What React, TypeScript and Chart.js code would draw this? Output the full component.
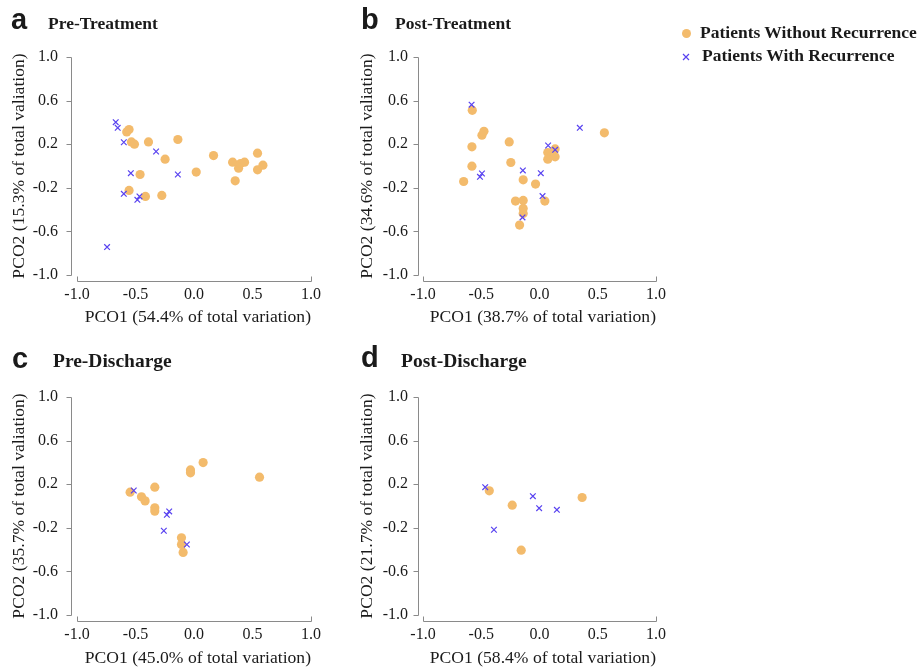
import React, { useEffect, useRef } from "react";
import { Chart, registerables } from "chart.js";

Chart.register(...registerables);

// ---------- data ----------
const X_TICKS = [-1.0, -0.5, 0.0, 0.5, 1.0];
const Y_TICKS = [-1.0, -0.6, -0.2, 0.2, 0.6, 1.0];

const SERIES_WITHOUT = "Patients Without Recurrence";
const SERIES_WITH = "Patients With Recurrence";

const PANEL_LETTERS = ["a", "b", "c", "d"];
const PANEL_TITLES = ["Pre-Treatment", "Post-Treatment", "Pre-Discharge", "Post-Discharge"];
const X_TITLES = [
  "PCO1 (54.4% of total variation)",
  "PCO1 (38.7% of total variation)",
  "PCO1 (45.0% of total variation)",
  "PCO1 (58.4% of total variation)",
];
const Y_TITLES = [
  "PCO2 (15.3% of total valiation)",
  "PCO2 (34.6% of total valiation)",
  "PCO2 (35.7% of total valiation)",
  "PCO2 (21.7% of total valiation)",
];

// Panel a: Pre-Treatment
const A_WITHOUT_X = [-0.575, -0.555, -0.535, -0.509, -0.389, -0.138, -0.247, 0.167, 0.019, 0.33, 0.381, 0.398, 0.432, 0.543, 0.543, 0.589, 0.352, -0.461, -0.555, -0.415, -0.275];
const A_WITHOUT_Y = [0.313, 0.334, 0.221, 0.2, 0.221, 0.243, 0.063, 0.096, -0.056, 0.035, -0.02, 0.023, 0.035, 0.118, -0.035, 0.008, -0.136, -0.078, -0.224, -0.279, -0.27];
const A_WITH_X = [-0.669, -0.652, -0.6, -0.324, -0.54, -0.138, -0.6, -0.466, -0.484, -0.743];
const A_WITH_Y = [0.402, 0.35, 0.218, 0.133, -0.066, -0.078, -0.255, -0.279, -0.31, -0.744];

// Panel b: Post-Treatment
const B_WITHOUT_X = [-0.577, -0.58, -0.58, -0.651, -0.494, -0.477, -0.26, -0.246, -0.14, -0.034, -0.206, -0.14, -0.14, -0.14, -0.171, 0.046, 0.071, 0.071, 0.134, 0.134, 0.557];
const B_WITHOUT_Y = [0.511, 0.176, -0.002, -0.142, 0.282, 0.319, 0.221, 0.032, -0.127, -0.166, -0.322, -0.316, -0.389, -0.435, -0.542, -0.322, 0.124, 0.063, 0.157, 0.084, 0.304];
const B_WITH_X = [-0.583, -0.511, -0.494, -0.143, 0.011, 0.074, 0.134, 0.346, 0.026, -0.146];
const B_WITH_Y = [0.563, -0.099, -0.069, -0.041, -0.066, 0.188, 0.148, 0.35, -0.276, -0.472];

// Panel c: Pre-Discharge
const C_WITHOUT_X = [-0.546, -0.449, -0.418, -0.335, -0.335, -0.335, -0.03, -0.03, 0.078, 0.56, -0.107, -0.107, -0.093];
const C_WITHOUT_Y = [0.127, 0.084, 0.047, 0.173, -0.017, -0.047, 0.331, 0.304, 0.398, 0.264, -0.292, -0.353, -0.426];
const C_WITH_X = [-0.515, -0.232, -0.212, -0.258, -0.061];
const C_WITH_Y = [0.142, -0.081, -0.05, -0.227, -0.353];

// Panel d: Post-Discharge
const D_WITHOUT_X = [-0.431, -0.234, -0.157, 0.366];
const D_WITHOUT_Y = [0.139, 0.008, -0.405, 0.078];
const D_WITH_X = [-0.466, -0.391, -0.057, -0.003, 0.149];
const D_WITH_Y = [0.173, -0.218, 0.09, -0.02, -0.035];

const WITHOUT_XS = [A_WITHOUT_X, B_WITHOUT_X, C_WITHOUT_X, D_WITHOUT_X];
const WITHOUT_YS = [A_WITHOUT_Y, B_WITHOUT_Y, C_WITHOUT_Y, D_WITHOUT_Y];
const WITH_XS = [A_WITH_X, B_WITH_X, C_WITH_X, D_WITH_X];
const WITH_YS = [A_WITH_Y, B_WITH_Y, C_WITH_Y, D_WITH_Y];

// ---------- styles / layout ----------
const ORANGE = "rgb(243,187,108)";
const BLUE = "rgb(88,66,240)";
const AXIS_GRAY = "#8a8a8a";
const TEXT = "#1a1a1a";
const SERIF = '"Liberation Serif", "Times New Roman", serif';
const SANS = '"Liberation Sans", Arial, sans-serif';

type Layout = {
  x0: number; y0: number; w: number; h: number;
  aL: number; aR: number; aT: number; aB: number;
  yGap: number; yTickPad: number; yTitlePad: number; xTitlePad: number;
  letterX: number; letterY: number; titleX: number; titleY: number; titleSize: number;
};

const LAYOUTS: Layout[] = [
  { x0: 0, y0: 0, w: 345, h: 332, aL: 77, aR: 311, aT: 57, aB: 275, yGap: 6, yTickPad: 19, yTitlePad: 9, xTitlePad: 4, letterX: 11, letterY: 29, titleX: 48, titleY: 29, titleSize: 17.5 },
  { x0: 345, y0: 0, w: 345, h: 332, aL: 423, aR: 656, aT: 57, aB: 275, yGap: 5, yTickPad: 15, yTitlePad: 12, xTitlePad: 4, letterX: 361, letterY: 29, titleX: 395, titleY: 29, titleSize: 17.5 },
  { x0: 0, y0: 337, w: 345, h: 332, aL: 77, aR: 311, aT: 397, aB: 615, yGap: 6, yTickPad: 19, yTitlePad: 9, xTitlePad: 0.5, letterX: 12, letterY: 368, titleX: 53, titleY: 367, titleSize: 19.5 },
  { x0: 345, y0: 337, w: 345, h: 332, aL: 423, aR: 656, aT: 397, aB: 615, yGap: 5, yTickPad: 15, yTitlePad: 12, xTitlePad: 0.5, letterX: 361, letterY: 367, titleX: 401, titleY: 367, titleSize: 19.5 },
];

const fmt = (v: number) => (Math.abs(v) < 1e-9 ? 0 : v).toFixed(1);

function Panel({ idx }: { idx: number }) {
  const ref = useRef<HTMLCanvasElement | null>(null);
  const L = LAYOUTS[idx];

  useEffect(() => {
    if (!ref.current) return;
    const withoutPts = WITHOUT_XS[idx].map((x, i) => ({ x, y: WITHOUT_YS[idx][i] }));
    const withPts = WITH_XS[idx].map((x, i) => ({ x, y: WITH_YS[idx][i] }));

    const decor = {
      id: "decor",
      afterDraw(chart: any) {
        const { ctx, chartArea, scales } = chart;
        const xs = scales.x;
        const ys = scales.y;
        ctx.save();
        ctx.strokeStyle = AXIS_GRAY;
        ctx.lineWidth = 1;
        ctx.beginPath();
        const ax = Math.round(chartArea.left - L.yGap) + 0.5;
        const yTop = Math.round(ys.getPixelForValue(1.0)) + 0.5;
        const yBot = Math.round(ys.getPixelForValue(-1.0)) + 0.5;
        ctx.moveTo(ax, yTop);
        ctx.lineTo(ax, yBot);
        for (const v of Y_TICKS) {
          const p = Math.round(ys.getPixelForValue(v)) + 0.5;
          ctx.moveTo(ax - 5, p);
          ctx.lineTo(ax, p);
        }
        const by = Math.round(chartArea.bottom + 6) + 0.5;
        const xl = Math.round(xs.getPixelForValue(-1.0)) + 0.5;
        const xr = Math.round(xs.getPixelForValue(1.0)) + 0.5;
        ctx.moveTo(xl, by - 5);
        ctx.lineTo(xl, by);
        ctx.lineTo(xr, by);
        ctx.lineTo(xr, by - 5);
        ctx.stroke();

        ctx.fillStyle = TEXT;
        ctx.textAlign = "left";
        ctx.textBaseline = "alphabetic";
        ctx.font = `bold 29px ${SANS}`;
        ctx.fillText(PANEL_LETTERS[idx], L.letterX - L.x0, L.letterY - L.y0);
        ctx.font = `bold ${L.titleSize}px ${SERIF}`;
        ctx.fillText(PANEL_TITLES[idx], L.titleX - L.x0, L.titleY - L.y0);
        ctx.restore();
      },
    };

    const chart = new Chart(ref.current, {
      type: "scatter",
      data: {
        datasets: [
          {
            label: SERIES_WITH,
            data: withPts,
            pointStyle: "crossRot",
            pointRadius: 4,
            borderColor: BLUE,
            backgroundColor: BLUE,
            pointBorderWidth: 1.2,
            order: 0,
          },
          {
            label: SERIES_WITHOUT,
            data: withoutPts,
            pointStyle: "circle",
            pointRadius: 4.6,
            backgroundColor: ORANGE,
            borderColor: ORANGE,
            pointBorderWidth: 0,
            order: 1,
          },
        ],
      },
      options: {
        responsive: false,
        animation: false,
        devicePixelRatio: 1,
        events: [],
        clip: false as any,
        layout: {
          padding: { left: 0, top: L.aT - L.y0, right: L.x0 + L.w - L.aR, bottom: 0 },
        },
        plugins: {
          legend: { display: false },
          tooltip: { enabled: false },
          title: { display: false },
        },
        scales: {
          x: {
            type: "linear",
            min: -1,
            max: 1,
            afterBuildTicks: (s: any) => {
              s.ticks = X_TICKS.map((v) => ({ value: v }));
            },
            afterFit: (s: any) => {
              s.height = L.y0 + L.h - L.aB;
            },
            grid: { display: false, drawTicks: false },
            border: { display: false },
            ticks: {
              padding: 10,
              autoSkip: false,
              maxRotation: 0,
              color: TEXT,
              font: { family: SERIF, size: 16 },
              callback: (v: any) => fmt(Number(v)),
            },
            title: {
              display: true,
              text: X_TITLES[idx],
              align: "end",
              color: TEXT,
              font: { family: SERIF, size: 17.6 },
              padding: { top: 0, bottom: L.xTitlePad },
            },
          },
          y: {
            type: "linear",
            min: -1,
            max: 1,
            afterBuildTicks: (s: any) => {
              s.ticks = Y_TICKS.map((v) => ({ value: v }));
            },
            afterFit: (s: any) => {
              s.width = L.aL - L.x0;
            },
            grid: { display: false, drawTicks: false },
            border: { display: false },
            ticks: {
              padding: L.yTickPad,
              autoSkip: false,
              color: TEXT,
              font: { family: SERIF, size: 16 },
              callback: (v: any) => fmt(Number(v)),
            },
            title: {
              display: true,
              text: Y_TITLES[idx],
              color: TEXT,
              font: { family: SERIF, size: 17.6 },
              padding: { top: L.yTitlePad, bottom: 0 },
            },
          },
        },
      },
      plugins: [decor],
    } as any);

    return () => chart.destroy();
  }, [idx]);

  return (
    <canvas
      ref={ref}
      width={L.w}
      height={L.h}
      style={{ position: "absolute", left: L.x0, top: L.y0, width: L.w, height: L.h }}
    />
  );
}

function Legend() {
  const base: React.CSSProperties = {
    position: "absolute",
    font: `bold 17.5px ${SERIF}`,
    lineHeight: "20px",
    color: TEXT,
    whiteSpace: "nowrap",
  };
  return (
    <>
      <span
        style={{
          position: "absolute",
          left: 681.5,
          top: 28.5,
          width: 9,
          height: 9,
          borderRadius: "50%",
          background: ORANGE,
        }}
      />
      <div style={{ ...base, left: 700, top: 22.4 }}>{SERIES_WITHOUT}</div>
      <svg
        width={10}
        height={10}
        style={{ position: "absolute", left: 681, top: 52 }}
        viewBox="0 0 10 10"
      >
        <path d="M2 2 L8 8 M8 2 L2 8" stroke={BLUE} strokeWidth={1.2} />
      </svg>
      <div style={{ ...base, left: 702, top: 45 }}>{SERIES_WITH}</div>
    </>
  );
}

export default function App() {
  return (
    <div
      style={{
        position: "absolute",
        left: 0,
        top: 0,
        width: 922,
        height: 669,
        overflow: "hidden",
        background: "#fff",
      }}
    >
      {[0, 1, 2, 3].map((i) => (
        <Panel key={i} idx={i} />
      ))}
      <Legend />
    </div>
  );
}
